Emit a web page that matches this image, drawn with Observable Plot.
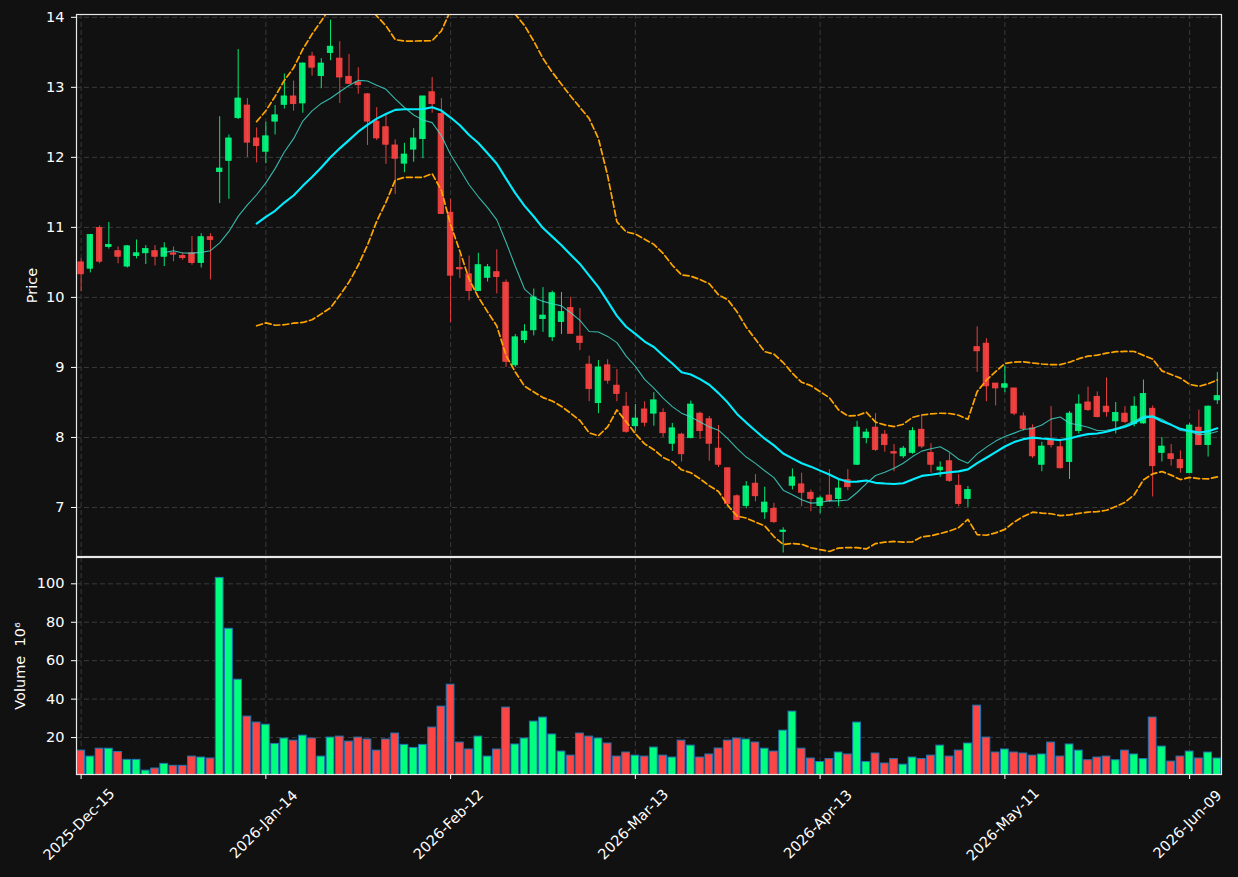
<!DOCTYPE html>
<html>
<head>
<meta charset="utf-8">
<script src="https://cdn.jsdelivr.net/npm/d3@7"></script>
<script src="https://cdn.jsdelivr.net/npm/@observablehq/plot@0.6"></script>
<style>
  html, body { margin: 0; padding: 0; background: #111111; }
  #chart { position: relative; width: 1238px; height: 877px; background: #111111; overflow: hidden; }
  #chart > div, #chart > svg { position: absolute; left: 0; }
  #price { top: 0; }
  #vol { top: 556px; }
</style>
</head>
<body>
<div id="chart"><div id="price"></div><div id="vol"></div></div>
<script>
// ---- data ----
const openP = [10.50,10.41,10.99,10.72,10.66,10.44,10.59,10.63,10.66,10.58,10.63,10.59,10.63,10.49,10.86,11.79,11.95,12.56,12.74,12.27,
  12.08,12.51,12.75,12.87,12.77,13.44,13.16,13.49,13.41,13.15,13.07,12.90,12.51,12.43,12.17,11.91,12.11,12.26,12.93,12.62,
  11.21,10.42,10.33,10.09,10.28,10.36,10.21,9.03,9.39,9.53,9.69,9.43,9.65,9.85,9.44,9.04,8.49,9.03,8.74,8.44,
  8.16,8.40,8.34,8.35,7.91,8.04,7.99,8.34,8.26,7.84,7.56,7.16,7.02,7.34,6.93,6.98,6.65,7.31,7.33,7.21,
  7.02,7.17,7.12,7.39,7.61,7.99,8.14,8.04,7.79,7.73,7.78,8.11,7.78,7.53,7.66,7.31,7.12,9.29,9.34,8.77,
  8.71,8.70,8.30,8.13,7.61,7.97,7.86,7.65,8.09,8.50,8.58,8.44,8.23,8.34,8.19,8.20,8.41,7.78,7.76,7.68,
  7.49,8.14,7.89,8.53];
const highP = [10.55,10.90,11.02,11.07,10.72,10.74,10.82,10.74,10.74,10.78,10.72,10.63,10.87,10.91,10.91,12.58,12.32,13.54,12.84,12.42,
  12.50,12.74,13.19,13.09,13.35,13.50,13.41,13.96,13.65,13.47,13.28,12.91,12.71,12.60,12.25,12.20,12.41,12.87,13.14,12.84,
  11.40,10.61,10.59,10.63,10.47,10.68,10.25,9.47,9.61,10.12,10.14,10.09,10.07,10.00,9.84,9.16,9.10,9.11,8.97,8.64,
  8.47,8.51,8.64,8.41,8.20,8.06,8.52,8.36,8.30,8.17,7.56,7.18,7.37,7.47,7.29,7.06,6.71,7.55,7.49,7.25,
  7.16,7.54,7.40,7.54,8.23,8.12,8.34,8.10,7.90,7.87,8.14,8.30,7.91,7.65,7.77,7.47,7.30,9.58,9.41,8.77,
  9.02,8.70,8.35,8.18,7.93,8.44,7.96,8.37,8.61,8.72,8.65,8.85,8.50,8.44,8.58,8.82,8.45,8.00,7.90,7.81,
  8.20,8.39,8.45,8.93];
const lowP = [10.08,10.35,10.48,10.69,10.48,10.42,10.55,10.47,10.45,10.44,10.51,10.53,10.46,10.42,10.25,11.34,11.40,12.54,12.00,11.92,
  11.91,12.32,12.69,12.66,12.63,13.16,12.98,13.38,12.77,13.04,12.90,12.17,12.24,11.90,11.47,11.78,11.93,11.98,12.63,11.19,
  9.64,10.27,9.95,10.09,10.22,10.05,9.00,9.00,9.34,9.45,9.50,9.37,9.47,9.48,9.24,8.51,8.34,8.76,8.51,8.06,
  8.08,8.15,8.16,8.00,7.80,7.65,7.98,7.97,7.66,7.57,7.03,6.82,6.98,7.08,6.83,6.77,6.35,7.25,7.01,6.94,
  6.91,7.07,7.01,7.24,7.60,7.91,7.80,7.79,7.51,7.70,7.76,7.84,7.49,7.43,7.36,7.01,7.00,8.93,8.51,8.45,
  8.64,8.31,8.09,7.70,7.51,7.85,7.55,7.40,8.05,8.37,8.28,8.29,8.05,8.20,8.15,8.19,7.15,7.65,7.59,7.49,
  7.49,7.89,7.72,8.47];
const closeP = [10.33,10.89,10.51,10.75,10.58,10.73,10.63,10.69,10.58,10.70,10.61,10.56,10.49,10.86,10.82,11.84,12.27,12.84,12.21,12.16,
  12.30,12.60,12.87,12.76,13.34,13.28,13.34,13.58,13.14,13.05,13.03,12.51,12.27,12.18,11.98,12.04,12.27,12.87,12.76,11.19,
  10.31,10.40,10.09,10.46,10.43,10.29,9.08,9.43,9.51,10.00,9.74,10.06,9.79,9.48,9.35,8.69,9.00,8.81,8.62,8.08,
  8.27,8.21,8.53,8.06,8.13,7.76,8.47,8.09,7.91,7.61,7.05,6.82,7.30,7.16,7.07,6.79,6.67,7.43,7.21,7.12,
  7.13,7.09,7.27,7.29,8.14,8.07,7.82,7.89,7.77,7.84,8.09,7.87,7.61,7.57,7.38,7.05,7.25,9.23,8.73,8.70,
  8.76,8.34,8.12,7.73,7.87,7.89,7.56,8.34,8.47,8.39,8.29,8.36,8.35,8.22,8.44,8.62,7.59,7.87,7.69,7.56,
  8.17,7.89,8.44,8.59];
const volume = [13.2,10.1,14.2,14.2,12.5,8.4,8.4,2.8,3.9,6.3,5.3,5.3,10.1,9.6,9.1,103.1,76.6,50.1,30.9,27.8,
  26.7,16.7,19.5,18.4,21.0,19.5,10.1,20.0,20.5,17.9,20.0,19.0,13.2,19.0,22.1,16.2,14.6,16.2,25.2,36.1,
  47.5,17.4,13.8,20.5,10.1,13.8,35.6,16.4,19.5,28.3,30.4,21.6,12.7,10.6,22.1,20.5,19.5,16.9,10.1,12.2,
  10.6,10.1,14.8,10.6,9.6,18.4,15.8,9.6,11.2,14.3,18.4,19.5,19.0,17.4,14.2,12.7,23.6,33.5,14.2,9.1,
  7.3,8.8,12.2,11.2,27.8,7.3,11.7,6.5,8.8,5.9,9.6,8.8,10.6,15.8,10.1,13.2,16.9,36.6,20.0,12.2,
  13.8,12.2,11.7,10.6,11.2,17.4,10.1,16.4,13.2,8.2,9.6,10.1,8.2,13.2,11.2,8.8,30.4,15.3,7.5,10.1,
  12.7,9.1,12.2,9.1];
const tickIdx = [0, 20, 40, 60, 80, 100, 120];
const tickLabels = ["2025-Dec-15","2026-Jan-14","2026-Feb-12","2026-Mar-13","2026-Apr-13","2026-May-11","2026-Jun-09"];
const priceTicks = [7, 8, 9, 10, 11, 12, 13, 14];
const volTicks = [20, 40, 60, 80, 100];

// ---- style ----
const UP = "#00ff7f", DOWN = "#ff4444";
const GRID = "#3a3a3a";
const FRAME = "#e8e8e8";
const FONT = "DejaVu Sans";

const rows = closeP.map((c, i) => ({
  i, open: openP[i], high: highP[i], low: lowP[i], close: c, volume: volume[i], up: c >= openP[i]
}));

const xDomain = [-0.5, 123.45];
const mean = v => d3.mean(v);
const sd = v => { const m = d3.mean(v); return Math.sqrt(d3.mean(v, x => (x - m) ** 2)); };
const ma = k => v => v.length < k ? NaN : mean(v);
const bandHi = v => v.length < 20 ? NaN : mean(v) + 2 * sd(v);
const bandLo = v => v.length < 20 ? NaN : mean(v) - 2 * sd(v);
const col = d => d.up ? UP : DOWN;

const pricePlot = Plot.plot({
  width: 1238, height: 557,
  marginLeft: 76, marginRight: 17, marginTop: 14, marginBottom: 1,
  style: { background: "transparent", color: "white", fontFamily: FONT, fontSize: "14.5px", overflow: "visible" },
  color: { type: "identity" },
  x: { domain: xDomain, axis: null },
  y: { domain: [6.3, 14.04], ticks: priceTicks, tickSize: 5, tickPadding: 7, tickFormat: d => String(d), label: null },
  marks: [
    Plot.ruleX(tickIdx, { x: d => d, stroke: GRID, strokeDasharray: "5,3", strokeWidth: 1 }),
    Plot.ruleY(priceTicks, { y: d => d, stroke: GRID, strokeDasharray: "5,3", strokeWidth: 1 }),
    Plot.ruleX(rows, { x: "i", y1: "low", y2: "high", stroke: col, strokeOpacity: 0.9, strokeWidth: 1, clip: true }),
    Plot.rect(rows, { x1: d => d.i - 0.3, x2: d => d.i + 0.3, y1: "open", y2: "close",
      fill: col, stroke: col, strokeWidth: 0.8, fillOpacity: 0.9, strokeOpacity: 0.9, clip: true }),
    Plot.lineY(rows, Plot.windowY({ k: 10, anchor: "end", reduce: ma(10) },
      { x: "i", y: "close", stroke: "#40e0d0", strokeOpacity: 0.8, strokeWidth: 1.1, clip: true })),
    Plot.lineY(rows, Plot.windowY({ k: 20, anchor: "end", reduce: ma(20) },
      { x: "i", y: "close", stroke: "#00eeff", strokeWidth: 2.1, clip: true })),
    Plot.lineY(rows, Plot.windowY({ k: 20, anchor: "end", reduce: bandHi },
      { x: "i", y: "close", stroke: "#ffa500", strokeWidth: 1.7, strokeDasharray: "6,3", clip: true })),
    Plot.lineY(rows, Plot.windowY({ k: 20, anchor: "end", reduce: bandLo },
      { x: "i", y: "close", stroke: "#ffa500", strokeWidth: 1.7, strokeDasharray: "6,3", clip: true })),
    Plot.text(["Price"], { frameAnchor: "left", dx: -44, rotate: -90, textAnchor: "middle", lineAnchor: "middle",
      fill: "white", fontSize: 14.5 }),
    Plot.frame({ stroke: FRAME, strokeWidth: 1.2 })
  ]
});

const volPlot = Plot.plot({
  width: 1238, height: 321,
  marginLeft: 76, marginRight: 17, marginTop: 1, marginBottom: 103,
  style: { background: "transparent", color: "white", fontFamily: FONT, fontSize: "14.5px", overflow: "visible" },
  color: { type: "identity" },
  x: { domain: xDomain, ticks: tickIdx, tickSize: 5, tickFormat: () => "", label: null },
  y: { domain: [0.78, 113.7], ticks: volTicks, tickSize: 5, tickPadding: 7, tickFormat: d => String(d), label: null },
  marks: [
    Plot.ruleX(tickIdx, { x: d => d, stroke: GRID, strokeDasharray: "5,3", strokeWidth: 1 }),
    Plot.ruleY(volTicks, { y: d => d, stroke: GRID, strokeDasharray: "5,3", strokeWidth: 1 }),
    Plot.rect(rows, { x1: d => d.i - 0.42, x2: d => d.i + 0.42, y1: d => 0, y2: "volume",
      fill: col, stroke: "#1f77b4", strokeWidth: 1, clip: true }),
    Plot.text(tickIdx, { x: d => d, text: (d, j) => tickLabels[j], frameAnchor: "bottom", dy: 50, dx: -2,
      rotate: -45, textAnchor: "middle", lineAnchor: "middle", fill: "white", fontSize: 14.5 }),
    Plot.text(["Volume  10\u2076"], { frameAnchor: "left", dx: -56, rotate: -90, textAnchor: "middle",
      lineAnchor: "middle", fill: "white", fontSize: 14.5 }),
    Plot.frame({ stroke: FRAME, strokeWidth: 1.2 })
  ]
});

document.getElementById("price").appendChild(pricePlot);
document.getElementById("vol").appendChild(volPlot);
</script>
</body>
</html>
